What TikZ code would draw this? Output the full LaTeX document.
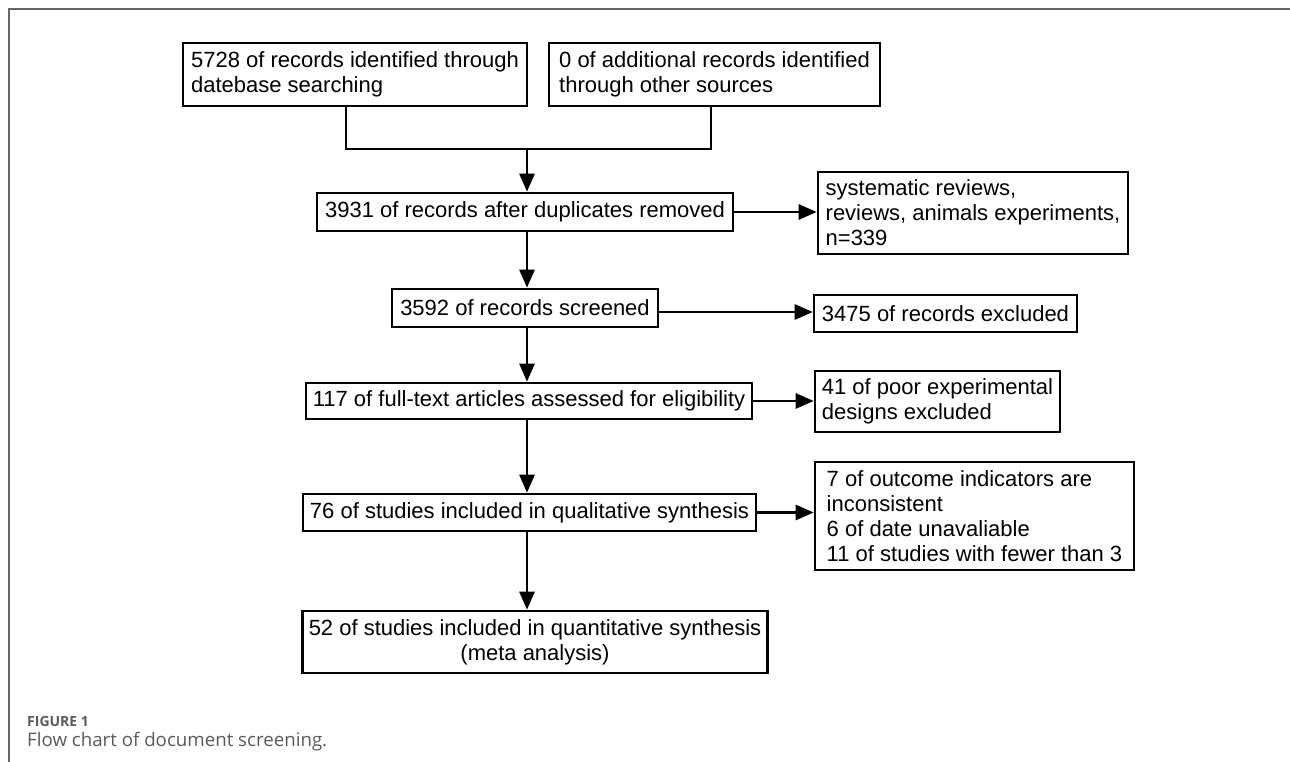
\documentclass[tikz,border=0pt]{standalone}
\usepackage{fontspec}
\setmainfont{Liberation Sans}
\newfontfamily\capfont{Open Sans}
\usetikzlibrary{arrows.meta}
\definecolor{framegray}{HTML}{666666}
\definecolor{capgray}{HTML}{5A5A5A}
\begin{document}
\begin{tikzpicture}[x=1pt,y=-1pt,
  box/.style={draw=black, line width=2.6pt, inner xsep=6pt, inner ysep=0pt,
    font=\fontsize{22}{25}\selectfont, align=left},
  arr/.style={line width=2.6pt, -{Triangle[length=18pt,width=15pt]}},
  lnk/.style={line width=2.6pt}]
\useasboundingbox (0,0) rectangle (1290,762);
\draw[line width=1.5pt, color=framegray] (9,762) -- (9,9) -- (1290,9);

\node[box, minimum width=344pt, minimum height=63pt] (A) at (355,74.5) {5728 of records identified through\\datebase searching};
\node[box, minimum width=331pt, minimum height=63pt] (B) at (714.5,74.5) {0 of additional records identified\\through other sources};
\node[box, minimum width=416pt, minimum height=38pt] (C) at (525,212) {3931 of records after duplicates removed};
\node[box, minimum width=310pt, minimum height=82pt] (D) at (973,213) {systematic reviews,\\reviews, animals experiments,\\n=339};
\node[box, minimum width=266pt, minimum height=38pt] (E) at (525,308) {3592 of records screened};
\node[box, minimum width=263pt, minimum height=37pt] (F) at (945.5,313.5) {3475 of records excluded};
\node[box, minimum width=446pt, minimum height=36pt] (G) at (529,401) {117 of full-text articles assessed for eligibility};
\node[box, minimum width=245pt, minimum height=61pt] (H) at (937.5,401.5) {41 of poor experimental\\designs excluded};
\node[box, minimum width=453pt, minimum height=37pt] (J) at (529.5,512.5) {76 of studies included in qualitative synthesis};
\node[box, minimum width=319pt, minimum height=108pt] (I) at (974.5,516) {7 of outcome indicators are\\inconsistent\\6 of date unavaliable\\11 of studies with fewer than 3};
\node[box, align=center, minimum width=464pt, minimum height=62pt] (K) at (535,642) {52 of studies included in quantitative synthesis\\(meta analysis)};

\coordinate (axis) at (527,0);
\coordinate (j) at (527,149);
\draw[lnk] ([xshift=-9pt]A.south) |- (j);
\draw[lnk] ([xshift=-3.5pt]B.south) |- (j);
\draw[arr] (j) -- (C.north -| j);
\draw[arr] (C.south -| axis) -- (E.north -| axis);
\draw[arr] (E.south -| axis) -- (G.north -| axis);
\draw[arr] (G.south -| axis) -- (J.north -| axis);
\draw[arr] (J.south -| axis) -- (K.north -| axis);

\draw[arr] (C.east) -- (C.east -| D.west);
\draw[arr] ([yshift=-4pt]E.east) -- ([yshift=-4pt]E.east -| F.west);
\draw[arr] (G.east) -- (G.east -| H.west);
\draw[arr] (J.east) -- (J.east -| I.west);

\node[anchor=west, inner sep=0pt, text=capgray, font=\capfont\bfseries\fontsize{14}{16}\selectfont] (cap1) at (27,721) {FIGURE 1};
\node[anchor=west, inner sep=0pt, text=capgray, font=\capfont\fontsize{18.7}{22}\selectfont] (cap2) at (27,742) {Flow chart of document screening.};
\end{tikzpicture}
\end{document}
